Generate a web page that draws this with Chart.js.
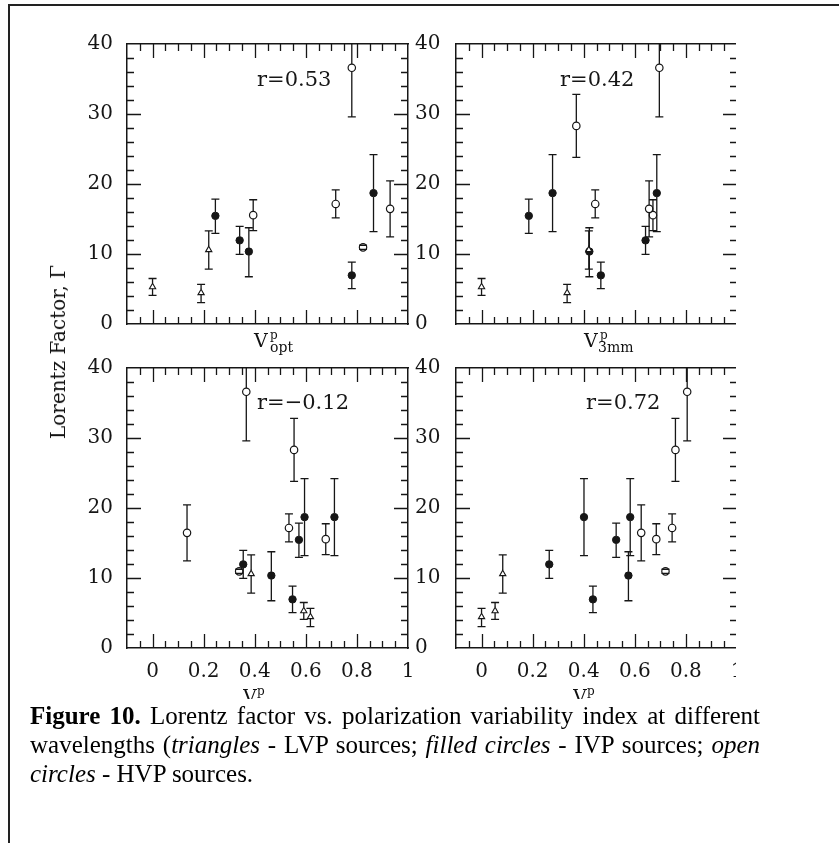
<!DOCTYPE html>
<html><head><meta charset="utf-8">
<script src="https://cdn.jsdelivr.net/npm/chart.js@4.4.1/dist/chart.umd.min.js"></script>
<style>
html,body{margin:0;padding:0;background:#fff;}
body{width:839px;height:843px;position:relative;overflow:hidden;}
.frame{position:absolute;left:8px;top:4px;width:840px;height:850px;border-left:2px solid #222;border-top:2px solid #222;}
.wrap{position:absolute;overflow:hidden;}
canvas{display:block;}
.ytitle{position:absolute;left:58px;top:352px;transform:translate(-50%,-50%) rotate(-90deg);font-family:'DejaVu Serif';font-size:20px;white-space:nowrap;color:#111;}
.xt{position:absolute;font-family:'DejaVu Serif';color:#111;line-height:normal;}
.xt span{position:absolute;white-space:nowrap;}
.caption{position:absolute;left:30px;top:701px;width:730px;font-family:'Liberation Serif';font-size:25px;line-height:29px;color:#000;}
.caption div{white-space:nowrap;}
.caption .j{text-align:justify;text-align-last:justify;white-space:normal;}
</style></head>
<body>
<div class="frame"></div>
<div class="wrap" style="left:67px;top:4px;width:401px;height:380px"><canvas id="cOpt" width="401" height="380"></canvas></div>
<div class="wrap" style="left:396px;top:4px;width:340px;height:380px"><canvas id="c3mm" width="401" height="380"></canvas></div>
<div class="wrap" style="left:67px;top:328px;width:401px;height:380px"><canvas id="cBL" width="401" height="380"></canvas></div>
<div class="wrap" style="left:396px;top:328px;width:340px;height:380px"><canvas id="cBR" width="401" height="380"></canvas></div>

<div class="ytitle">Lorentz Factor, Γ</div>
<div class="xt" style="left:254px;top:329px;"><span style="left:0;top:0;font-size:19px">V</span><span style="left:16px;top:-1px;font-size:12px">p</span><span style="left:16px;top:10px;font-size:14px">opt</span></div>
<div class="xt" style="left:584px;top:329px;"><span style="left:0;top:0;font-size:19px">V</span><span style="left:16px;top:-1px;font-size:12px">p</span><span style="left:14px;top:10px;font-size:14px">3mm</span></div>
<div class="wrap" style="left:243px;top:680px;width:40px;height:19px"><div class="xt" style="left:0;top:5px;"><span style="left:0;top:0;font-size:19px">V</span><span style="left:14px;top:-1px;font-size:12px">p</span></div></div>
<div class="wrap" style="left:573px;top:680px;width:40px;height:19px"><div class="xt" style="left:0;top:5px;"><span style="left:0;top:0;font-size:19px">V</span><span style="left:14px;top:-1px;font-size:12px">p</span></div></div>

<div class="caption">
<div class="j"><b>Figure 10.</b> Lorentz factor vs. polarization variability index at different</div>
<div class="j">wavelengths (<i>triangles</i> - LVP sources; <i>filled circles</i> - IVP sources; <i>open</i></div>
<div><i>circles</i> - HVP sources.</div>
</div>

<script>
// ---- data (one entry per source) ----
const sourceClass  = ['LVP','LVP','LVP','IVP','IVP','IVP','IVP','IVP','IVP','HVP','HVP','HVP','HVP','HVP','HVP'];
const lorentzGamma = [5.3, 4.45, 10.6, 15.45, 11.95, 10.35, 6.95, 18.7, 18.7, 15.55, 17.15, 36.6, 10.95, 16.45, 28.3];
const gammaErrUp   = [1.2, 1.2, 2.7, 2.4, 2.0, 3.4, 1.9, 5.5, 5.5, 2.2, 2.0, 7.0, 0.3, 4.0, 4.5];
const gammaErrDown = [1.2, 1.4, 2.75, 2.5, 2.0, 3.6, 1.9, 5.5, 5.5, 2.2, 2.0, 7.0, 0.3, 4.0, 4.5];
const vpOpt = [0.00, 0.19, 0.22, 0.246, 0.341, 0.377, 0.78, 0.865, null, 0.394, 0.717, 0.78, 0.824, 0.93, null];
const vp3mm = [0.00, 0.335, 0.42, 0.185, 0.642, 0.422, 0.467, 0.278, 0.686, 0.671, 0.445, 0.696, null, 0.656, 0.371];
const vpBL  = [0.592, 0.618, 0.386, 0.573, 0.355, 0.465, 0.548, 0.595, 0.712, 0.678, 0.534, 0.367, 0.339, 0.135, 0.554];
const vpBR  = [0.053, 0.00, 0.083, 0.527, 0.265, 0.575, 0.436, 0.401, 0.582, 0.684, 0.746, 0.805, 0.72, 0.625, 0.759];
const rLabels = ['r=0.53', 'r=0.42', 'r=\u22120.12', 'r=0.72'];
// ---- axis ticks ----
const xMajorTicks = [0, 0.2, 0.4, 0.6, 0.8, 1.0];
const xTickText   = ['0', '0.2', '0.4', '0.6', '0.8', '1'];
const xMinorTicks = [-0.05, 0.05, 0.1, 0.15, 0.25, 0.3, 0.35, 0.45, 0.5, 0.55, 0.65, 0.7, 0.75, 0.85, 0.9, 0.95];
const yMajorTicks = [0, 10, 20, 30, 40];
const yTickText   = ['0', '10', '20', '30', '40'];
const yMinorTicks = [2, 4, 6, 8, 12, 14, 16, 18, 22, 24, 26, 28, 32, 34, 36, 38];

const INK = '#161616';
const tickFont = {family: 'DejaVu Serif', size: 20};

const panelPlugin = {
  id: 'panelDeco',
  afterDatasetsDraw(chart, args, o) {
    const {ctx, chartArea: a} = chart;
    const xs = chart.scales.x, ys = chart.scales.y;
    ctx.save();
    ctx.beginPath(); ctx.rect(a.left, a.top, a.right - a.left, a.bottom - a.top); ctx.clip();
    ctx.strokeStyle = INK; ctx.lineWidth = 1.3;
    chart.data.datasets.forEach(ds => {
      ds.data.forEach(d => {
        const px = xs.getPixelForValue(d.x), py = ys.getPixelForValue(d.y);
        const pt = ys.getPixelForValue(d.y + d.up), pb = ys.getPixelForValue(d.y - d.dn);
        ctx.beginPath();
        if (py - ds.gapUp > pt) { ctx.moveTo(px, pt); ctx.lineTo(px, py - ds.gapUp); }
        if (py + ds.gapDown < pb) { ctx.moveTo(px, py + ds.gapDown); ctx.lineTo(px, pb); }
        ctx.moveTo(px - 4, pt); ctx.lineTo(px + 4, pt);
        ctx.moveTo(px - 4, pb); ctx.lineTo(px + 4, pb);
        ctx.stroke();
      });
    });
    ctx.restore();
    ctx.save();
    ctx.strokeStyle = INK; ctx.lineWidth = 1.3;
    ctx.beginPath();
    const xt = xMajorTicks.map(v => [v, 14]).concat(xMinorTicks.map(v => [v, 7]));
    xt.forEach(([v, L]) => {
      const px = Math.round(xs.getPixelForValue(v)) + 0.5;
      if (px <= a.left + 1 || px >= a.right - 1) return;
      ctx.moveTo(px, a.bottom); ctx.lineTo(px, a.bottom - L);
      ctx.moveTo(px, a.top); ctx.lineTo(px, a.top + L);
    });
    const yt = yMajorTicks.map(v => [v, 14]).concat(yMinorTicks.map(v => [v, 7]));
    yt.forEach(([v, L]) => {
      const py = Math.round(ys.getPixelForValue(v)) + 0.5;
      if (py <= a.top + 1 || py >= a.bottom - 1) return;
      ctx.moveTo(a.left, py); ctx.lineTo(a.left + L, py);
      ctx.moveTo(a.right, py); ctx.lineTo(a.right - L, py);
    });
    ctx.stroke();
    ctx.fillStyle = INK;
    ctx.font = '21px "DejaVu Serif"';
    ctx.textBaseline = 'middle';
    ctx.fillText(o.text, a.left + o.rx, a.top + o.ry);
    ctx.restore();
  }
};

function buildPanel(id, vp, rText, rx, ry, showX, showLeft, showRight) {
  const groups = {LVP: [], IVP: [], HVP: []};
  vp.forEach((x, i) => {
    if (x === null) return;
    groups[sourceClass[i]].push({x: x, y: lorentzGamma[i], up: gammaErrUp[i], dn: gammaErrDown[i]});
  });
  const datasets = [
    {label: 'LVP', data: groups.LVP, pointStyle: 'triangle', pointRadius: 3.6, pointBackgroundColor: '#fff', pointBorderColor: INK, pointBorderWidth: 1.1, gapUp: 3.6, gapDown: 1.8},
    {label: 'IVP', data: groups.IVP, pointStyle: 'circle', pointRadius: 3.7, pointBackgroundColor: INK, pointBorderColor: INK, pointBorderWidth: 1, gapUp: 3.7, gapDown: 3.7},
    {label: 'HVP', data: groups.HVP, pointStyle: 'circle', pointRadius: 3.7, pointBackgroundColor: '#fff', pointBorderColor: INK, pointBorderWidth: 1.2, gapUp: 3.8, gapDown: 3.8}
  ];
  const border = {display: true, color: INK, width: 1.5};
  const grid = {display: false, drawTicks: false};
  new Chart(document.getElementById(id), {
    type: 'scatter',
    data: {datasets},
    plugins: [panelPlugin],
    options: {
      responsive: false, animation: false, devicePixelRatio: 1, events: [],
      layout: {padding: 0},
      plugins: {legend: {display: false}, tooltip: {enabled: false},
        panelDeco: {text: rText, rx: rx, ry: ry}},
      scales: {
        x: {type: 'linear', position: 'bottom', min: -0.1, max: 1.0,
          grid, border,
          afterBuildTicks: s => { s.ticks = xMajorTicks.map(v => ({value: v})); },
          ticks: {display: showX, autoSkip: false, maxRotation: 0, padding: 12, font: tickFont, color: INK,
            callback: v => xTickText[xMajorTicks.indexOf(v)]},
          afterFit: s => { s.height = 60; }},
        x2: {type: 'linear', position: 'top', min: -0.1, max: 1.0,
          grid, border, ticks: {display: false},
          afterFit: s => { s.height = 40; }},
        y: {type: 'linear', position: 'left', min: 0, max: 40,
          grid, border,
          afterBuildTicks: s => { s.ticks = yMajorTicks.map(v => ({value: v})); },
          ticks: {display: showLeft, padding: 14, font: tickFont, color: INK,
            callback: v => yTickText[yMajorTicks.indexOf(v)]},
          afterFit: s => { s.width = 60; }},
        y2: {type: 'linear', position: 'right', min: 0, max: 40,
          grid, border,
          afterBuildTicks: s => { s.ticks = yMajorTicks.map(v => ({value: v})); },
          ticks: {display: showRight, padding: 7, font: tickFont, color: INK,
            callback: v => yTickText[yMajorTicks.indexOf(v)]},
          afterFit: s => { s.width = 60; }}
      }
    }
  });
}

buildPanel('cOpt', vpOpt, rLabels[0], 130, 36.5, false, true, true);
buildPanel('c3mm', vp3mm, rLabels[1], 104, 36.5, false, false, false);
buildPanel('cBL',  vpBL,  rLabels[2], 130, 35.5, true, true, true);
buildPanel('cBR',  vpBR,  rLabels[3], 130, 35.5, true, false, false);
</script>
</body></html>
